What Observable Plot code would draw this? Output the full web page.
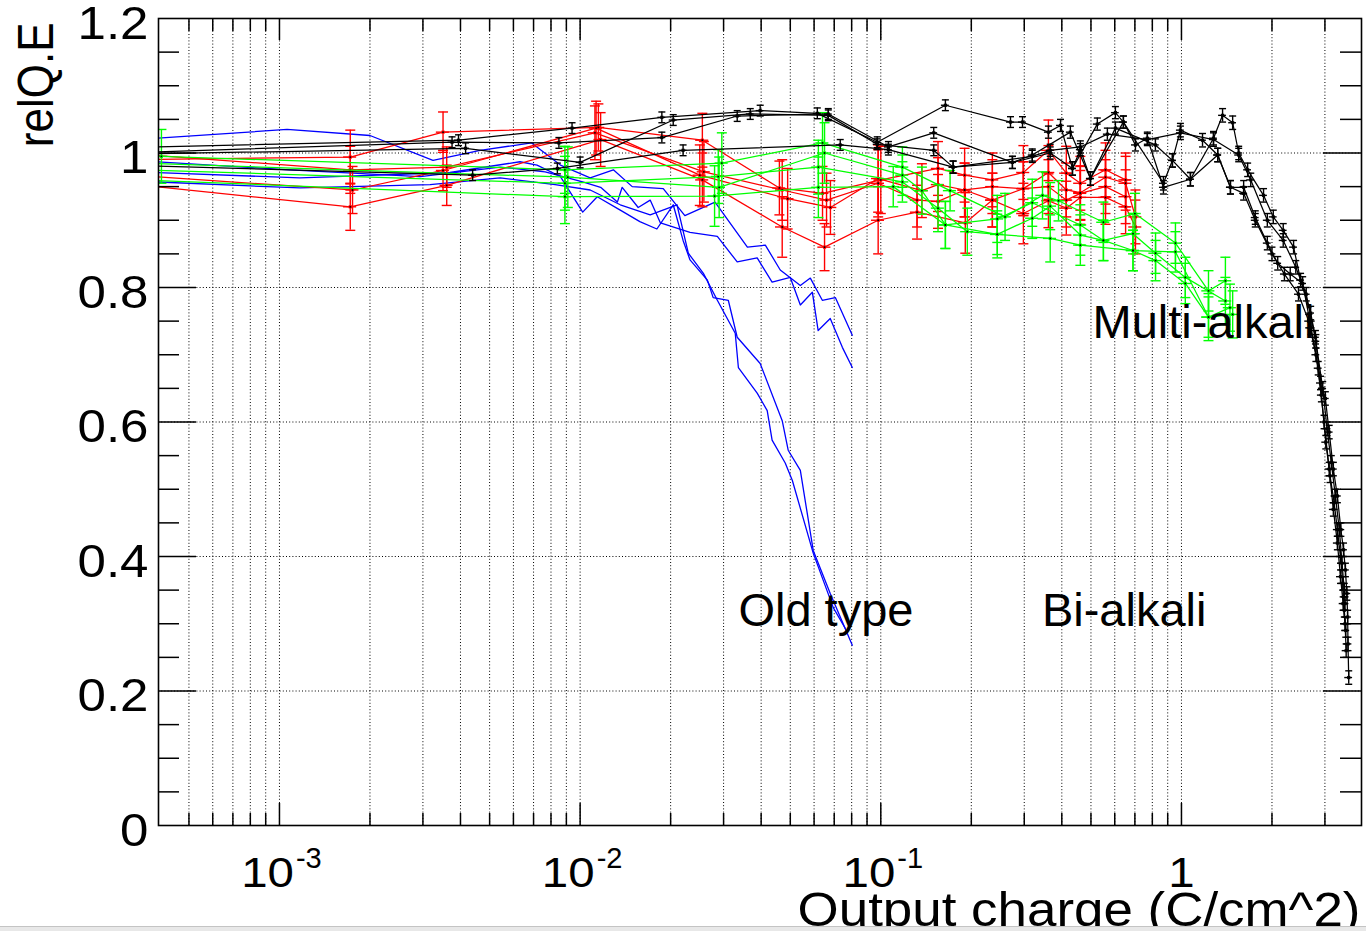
<!DOCTYPE html>
<html>
<head>
<meta charset="utf-8">
<script src="https://cdn.jsdelivr.net/npm/d3@7"></script>
<script src="https://cdn.jsdelivr.net/npm/@observablehq/plot@0.6"></script>
<style>
  html, body { margin: 0; padding: 0; background: #fff; overflow: hidden; }
  #chart { position: relative; width: 1366px; height: 931px; }
  #edge { position: absolute; left: 0; top: 926px; width: 1366px; height: 5px; background: #e8e8e8; border-top: 1px solid #c4c4c4; }
</style>
</head>
<body>
<div id="chart"></div>
<div id="edge"></div>
<script>
// Relative quantum efficiency against integrated output charge (log axis).
// Each series: [charge (C/cm^2), relQ.E, error on relQ.E]

// Old-type tubes, drawn as plain lines
const blue1 = [[3.9e-4,1.022],[1.06e-3,1.035],[2.0e-3,1.026],[3.24e-3,0.989],[4.65e-3,1.004],[6.9e-3,1.015],[8.6e-3,0.982],[0.0108,0.963],[0.0129,0.975],[0.0149,0.950],[0.0189,0.947],[0.0223,0.907],[0.0281,0.927],[0.036,0.860],[0.0413,0.863],[0.0463,0.826],[0.054,0.803],[0.0583,0.814],[0.0639,0.781],[0.0706,0.785],[0.0804,0.729]];
const blue2 = [[3.9e-4,0.987],[1.08e-3,0.975],[2.94e-3,0.965],[5.42e-3,0.979],[7.65e-3,0.972],[0.0102,0.957],[0.0117,0.949],[0.0133,0.927],[0.0138,0.949],[0.0156,0.919],[0.0171,0.930],[0.0185,0.896],[0.0232,0.882],[0.0286,0.876],[0.0333,0.838],[0.0388,0.844],[0.0435,0.808],[0.050,0.815],[0.054,0.774],[0.0592,0.793],[0.0619,0.736],[0.0679,0.754],[0.0745,0.711],[0.0804,0.681]];
const blue3 = [[3.9e-4,0.971],[1.17e-3,0.963],[3.69e-3,0.971],[6.31e-3,0.987],[7.19e-3,0.982],[8.6e-3,0.965],[0.0102,0.912],[0.0114,0.935],[0.0136,0.915],[0.0158,0.898],[0.018,0.887],[0.0204,0.923],[0.022,0.870],[0.0232,0.841],[0.0265,0.811],[0.0277,0.785],[0.0311,0.781],[0.0333,0.726],[0.0397,0.687],[0.047,0.602],[0.0492,0.558],[0.054,0.528],[0.0596,0.409],[0.0679,0.345],[0.0804,0.268]];
const blue4 = [[3.9e-4,0.957],[1.17e-3,0.948],[3.17e-3,0.953],[5.42e-3,0.963],[8.26e-3,0.953],[0.0108,0.945],[0.0136,0.923],[0.0171,0.908],[0.021,0.923],[0.0229,0.851],[0.0257,0.821],[0.0286,0.781],[0.0328,0.732],[0.0336,0.681],[0.0388,0.643],[0.0419,0.617],[0.0435,0.573],[0.0481,0.539],[0.0508,0.513],[0.0596,0.405],[0.0695,0.324],[0.0762,0.293]];

// Red series
const red1 = [[3e-4,0.955,0.03],[1.72e-3,0.920,0.035],[3.6e-3,0.952,0.03],[0.0117,1.02,0.04],[0.0255,0.960,0.04],[0.047,0.890,0.045],[0.065,0.860,0.035],[0.098,0.900,0.05],[0.132,0.912,0.04],[0.191,0.896,0.045],[0.235,0.930,0.04],[0.298,0.910,0.045],[0.361,0.929,0.04],[0.414,0.918,0.04],[0.461,0.934,0.04],[0.559,0.934,0.04],[0.652,0.920,0.04],[0.703,0.890,0.04]];
const red2 = [[3e-4,0.968,0.03],[1.75e-3,0.945,0.035],[3.5e-3,0.974,0.03],[0.0113,1.037,0.04],[0.025,0.967,0.045],[0.049,0.932,0.045],[0.068,0.919,0.04],[0.098,0.962,0.05],[0.137,0.944,0.04],[0.155,0.953,0.04],[0.19,0.945,0.04],[0.235,0.950,0.04],[0.298,0.947,0.04],[0.361,0.971,0.04],[0.414,0.945,0.04],[0.461,0.941,0.04],[0.559,0.964,0.04],[0.652,0.955,0.04],[0.703,0.905,0.04]];
const red3 = [[3e-4,0.990,0.03],[1.72e-3,0.994,0.04],[3.5e-3,1.031,0.03],[0.0115,1.038,0.035],[0.0255,1.019,0.04],[0.046,0.948,0.04],[0.064,0.940,0.04],[0.1,0.960,0.05],[0.155,0.977,0.04],[0.19,0.967,0.04],[0.235,0.960,0.04],[0.298,0.971,0.04],[0.361,1.004,0.045],[0.414,0.970,0.04],[0.461,0.955,0.04],[0.559,0.975,0.04],[0.652,0.960,0.04]];
const red4 = [[3e-4,1.0,0.03],[1.72e-3,0.975,0.035],[3.6e-3,0.979,0.03],[0.0112,1.03,0.04],[0.0258,0.972,0.045],[0.047,0.945,0.045],[0.066,0.930,0.04],[0.098,0.955,0.05],[0.132,0.930,0.04],[0.155,0.928,0.04],[0.19,0.945,0.04],[0.235,0.930,0.04],[0.298,0.947,0.04],[0.361,0.950,0.04],[0.414,0.930,0.04],[0.461,0.940,0.04],[0.559,0.950,0.04],[0.652,0.935,0.04]];

// Green series
const green1 = [[4.05e-4,0.995,0.04],[0.0089,0.975,0.035],[0.0296,0.985,0.045],[0.064,1.015,0.045],[0.118,0.979,0.03],[0.17,0.944,0.03],[0.259,0.905,0.035],[0.345,0.937,0.035],[0.39,0.929,0.03],[0.55,0.897,0.03],[0.70,0.910,0.03],[0.955,0.866,0.03],[1.23,0.795,0.03],[1.40,0.810,0.035]];
const green2 = [[3.5e-4,0.985,0.04],[0.0091,0.964,0.045],[0.029,0.949,0.045],[0.065,1.0,0.045],[0.118,0.967,0.03],[0.137,0.944,0.035],[0.164,0.893,0.035],[0.244,0.902,0.035],[0.319,0.926,0.035],[0.461,0.893,0.03],[0.55,0.870,0.03],[0.69,0.880,0.03],[0.82,0.851,0.03],[1.03,0.815,0.03],[1.40,0.780,0.035]];
const green3 = [[3.5e-4,0.975,0.04],[0.0089,0.955,0.04],[0.0288,0.965,0.04],[0.062,0.979,0.04],[0.118,0.957,0.03],[0.155,0.918,0.035],[0.194,0.883,0.035],[0.244,0.879,0.035],[0.319,0.903,0.03],[0.366,0.921,0.035],[0.461,0.878,0.03],[0.55,0.870,0.03],[0.69,0.855,0.03],[0.82,0.840,0.03],[1.03,0.806,0.03],[1.23,0.756,0.035],[1.48,0.760,0.035]];
const green4 = [[3.5e-4,0.960,0.04],[0.0089,0.935,0.04],[0.028,0.936,0.045],[0.062,0.949,0.045],[0.11,0.950,0.03],[0.164,0.893,0.035],[0.244,0.879,0.03],[0.366,0.873,0.035],[0.461,0.863,0.03],[0.69,0.855,0.03],[0.955,0.853,0.03],[1.23,0.756,0.03],[1.45,0.770,0.035]];

// Black series
const black1 = [[3e-4,1.008,0.006],[3.94e-3,1.019,0.008],[9.4e-3,1.037,0.008],[0.0187,1.053,0.008],[0.0397,1.063,0.008],[0.0615,1.059,0.008],[0.0973,1.016,0.008],[0.164,1.071,0.008],[0.270,1.046,0.008],[0.296,1.046,0.008],[0.361,1.031,0.009],[0.396,1.041,0.009],[0.434,0.977,0.01],[0.525,1.043,0.009],[0.603,1.060,0.009],[0.641,1.046,0.009],[0.703,1.012,0.009],[0.77,1.022,0.009],[0.871,0.949,0.01],[1.071,0.961,0.01],[1.278,1.022,0.01],[1.37,1.056,0.01],[1.48,1.045,0.01],[1.55,1.0,0.01],[1.66,0.975,0.01],[1.875,0.937,0.01],[2.02,0.905,0.01],[2.18,0.885,0.01],[2.36,0.86,0.01],[2.49,0.811,0.01],[2.69,0.762,0.01],[2.79,0.726,0.01],[2.90,0.658,0.01],[3.01,0.635,0.01],[3.1,0.585,0.01],[3.2,0.53,0.01],[3.3,0.49,0.01],[3.39,0.44,0.01],[3.46,0.41,0.01],[3.51,0.38,0.01],[3.55,0.345,0.01],[3.57,0.31,0.01],[3.58,0.27,0.01],[3.6,0.22,0.01]];
const black2 = [[3e-4,1.0,0.006],[3.75e-3,1.016,0.008],[8.5e-3,1.015,0.008],[0.0187,1.023,0.008],[0.0333,1.055,0.008],[0.0669,1.058,0.008],[0.106,1.009,0.008],[0.150,1.030,0.008],[0.274,0.986,0.009],[0.319,0.997,0.009],[0.427,1.031,0.009],[0.498,0.962,0.01],[0.603,1.037,0.009],[0.819,1.012,0.009],[0.933,0.989,0.01],[0.992,1.034,0.01],[1.175,1.019,0.01],[1.32,0.997,0.01],[1.455,0.949,0.01],[1.61,0.949,0.01],[1.76,0.904,0.01],[1.93,0.866,0.01],[2.09,0.836,0.01],[2.3,0.82,0.01],[2.53,0.806,0.01],[2.7,0.74,0.01],[2.85,0.68,0.01],[2.98,0.6,0.01],[3.1,0.53,0.01],[3.2,0.47,0.01],[3.3,0.42,0.01],[3.38,0.37,0.01],[3.45,0.33,0.01],[3.5,0.30,0.01],[3.53,0.26,0.01]];
const black3 = [[3e-4,0.998,0.006],[4.16e-3,1.007,0.008],[0.01,0.986,0.008],[0.0204,1.049,0.008],[0.0368,1.058,0.008],[0.0669,1.056,0.008],[0.0973,1.013,0.008],[0.150,1.004,0.008],[0.174,0.979,0.009],[0.319,0.995,0.009],[0.366,1.004,0.009],[0.461,1.009,0.009],[0.567,1.028,0.009],[0.77,1.02,0.009],[0.992,1.03,0.01],[1.278,1.02,0.01],[1.55,0.997,0.01],[1.7,0.96,0.01],[1.93,0.90,0.01],[2.18,0.87,0.01],[2.4,0.83,0.01],[2.6,0.79,0.01],[2.8,0.72,0.01],[2.95,0.65,0.01],[3.05,0.59,0.01],[3.15,0.54,0.01],[3.25,0.49,0.01],[3.35,0.44,0.01],[3.42,0.39,0.01],[3.48,0.35,0.01],[3.5,0.33,0.01]];
const black4 = [[3e-4,0.982,0.006],[4.39e-3,0.967,0.008],[8.4e-3,0.977,0.008],[0.022,1.004,0.008],[0.0733,1.012,0.008],[0.106,1.005,0.008],[0.174,0.979,0.009],[0.274,0.986,0.009],[0.366,1.0,0.009],[0.434,0.977,0.01],[0.461,1.005,0.009],[0.498,0.962,0.01],[0.641,1.046,0.009],[0.871,0.955,0.01],[0.933,0.989,0.01],[1.071,0.961,0.01],[1.32,0.997,0.01],[1.455,0.949,0.01],[1.61,0.94,0.01],[1.76,0.9,0.01],[2.0,0.85,0.01],[2.2,0.82,0.01],[2.45,0.79,0.01],[2.65,0.75,0.01],[2.8,0.70,0.01],[2.92,0.64,0.01],[3.02,0.57,0.01],[3.12,0.52,0.01],[3.22,0.48,0.01],[3.3,0.44,0.01],[3.38,0.40,0.01],[3.44,0.36,0.01],[3.48,0.32,0.01],[3.52,0.29,0.01]];

// Axis ticks and labels
const xDomain = [3.96e-4, 3.97];
const xDecadeLabels = [1e-3, 1e-2, 1e-1];
const xDecadeExponents = ["-3", "-2", "-1"];
const xUnitLabel = [1];
const yLabelValues = [0, 0.2, 0.4, 0.6, 0.8, 1.0, 1.2];
const yGridValues = [0.2, 0.4, 0.6, 0.8, 1.0];
const yMinorValues = [0.05, 0.1, 0.15, 0.25, 0.3, 0.35, 0.45, 0.5, 0.55, 0.65, 0.7, 0.75, 0.85, 0.9, 0.95, 1.05, 1.1, 1.15];

const annotations = [
  {x: 0.506, y: 0.7245, text: "Multi-alkali"},
  {x: 0.0336, y: 0.296, text: "Old type"},
  {x: 0.3434, y: 0.296, text: "Bi-alkali"}
];

// log tick positions 1..9 x 10^p inside the domain
const xTickValues = [];
const xMajorValues = [];
for (let p = -4; p <= 0; p++) {
  for (let m = 1; m <= 9; m++) {
    const v = +(m * 10 ** p).toPrecision(3);
    if (v > 4.05e-4 && v < 3.9) {
      xTickValues.push(v);
      if (m === 1) xMajorValues.push(v);
    }
  }
}
const xMinorValues = xTickValues.filter(v => !xMajorValues.includes(v));

const W = 1366, H = 931;
const mL = 158, mR = 5, mT = 18, mB = 106;
const plotW = W - mL - mR, plotH = H - mT - mB;

// font sizes double as handles for the lettering widths set below
const FS = {yLabel: 46, xLabel: 42, xExp: 29, xTitle: 49, yTitle: 44, note: 47};

// horizontal bar symbol for error-bar caps
const hline = {
  draw(ctx, size) {
    const r = Math.sqrt(size / Math.PI);
    ctx.moveTo(-r, 0);
    ctx.lineTo(r, 0);
  }
};

function toRows(list) {
  return list.flatMap((pts, k) => pts.map(([x, y, e = 0]) => ({k, x, y, e})));
}

function seriesMarks(list, color, {bars = true, xErr = 0.05, cap = 5, width = 1.25} = {}) {
  const data = toRows(list);
  const marks = [Plot.line(data, {x: "x", y: "y", z: "k", stroke: color, strokeWidth: width, clip: true})];
  if (bars) {
    const s = {stroke: color, strokeWidth: 1.4, clip: true};
    marks.push(
      Plot.ruleX(data, {x: "x", y1: d => d.y - d.e, y2: d => d.y + d.e, ...s}),
      Plot.ruleY(data, {y: "y", x1: d => d.x * (1 - xErr), x2: d => d.x * (1 + xErr), ...s}),
      Plot.dot(data, {x: "x", y: d => d.y + d.e, symbol: hline, r: cap, fill: "none", ...s}),
      Plot.dot(data, {x: "x", y: d => d.y - d.e, symbol: hline, r: cap, fill: "none", ...s}),
      Plot.dot(data, {x: "x", y: "y", symbol: "square", r: 1.8, fill: color, stroke: "none", clip: true}),
      Plot.dot(data, {x: "x", y: "y", r: 0.9, fill: "#000", stroke: "none", clip: true})
    );
  }
  return marks;
}

const font = "'Liberation Sans', Arial, Helvetica, sans-serif";
const dotted = {stroke: "#000", strokeWidth: 1, strokeDasharray: "1,2.2"};
const tickStyle = {stroke: "#000", strokeWidth: 1.5};

const chart = Plot.plot({
  width: W, height: H,
  marginLeft: mL, marginRight: mR, marginTop: mT, marginBottom: mB,
  x: {type: "log", domain: xDomain, axis: null},
  y: {domain: [0, 1.2], axis: null},
  style: {fontFamily: font, background: "#fff", color: "#000", overflow: "visible"},
  marks: [
    // dotted grid
    Plot.ruleX(xTickValues, {x: d => d, ...dotted}),
    Plot.ruleY(yGridValues, {y: d => d, ...dotted}),

    // data
    ...seriesMarks([blue1, blue2, blue3, blue4], "#0000ff", {bars: false, width: 1.3}),
    ...seriesMarks([red1, red2, red3, red4], "#ff0000", {xErr: 0.05, cap: 5}),
    ...seriesMarks([green1, green2, green3, green4], "#00ff00", {xErr: 0.05, cap: 5}),
    ...seriesMarks([black1, black2, black3, black4], "#000000", {xErr: 0.03, cap: 3.5}),

    // inward ticks: left and right y, bottom and top x
    Plot.tickY(yGridValues, {y: d => d, insetRight: plotW - 38, ...tickStyle}),
    Plot.tickY(yMinorValues, {y: d => d, insetRight: plotW - 21, ...tickStyle}),
    Plot.tickY(yGridValues, {y: d => d, insetLeft: plotW - 38, ...tickStyle}),
    Plot.tickY(yMinorValues, {y: d => d, insetLeft: plotW - 21, ...tickStyle}),
    Plot.tickX(xMajorValues, {x: d => d, insetTop: plotH - 22, ...tickStyle}),
    Plot.tickX(xMinorValues, {x: d => d, insetTop: plotH - 12, ...tickStyle}),
    Plot.tickX(xMajorValues, {x: d => d, insetBottom: plotH - 22, ...tickStyle}),
    Plot.tickX(xMinorValues, {x: d => d, insetBottom: plotH - 13, ...tickStyle}),
    Plot.frame({stroke: "#000", strokeWidth: 1.6}),

    // y tick labels
    Plot.text(yLabelValues, {
      frameAnchor: "left", y: d => d, text: d => String(+d.toFixed(1)),
      textAnchor: "end", lineAnchor: "bottom", dx: -10, dy: 20, fontSize: FS.yLabel
    }),
    // x tick labels: 10 with exponent, and 1
    Plot.text(xDecadeLabels, {
      x: d => d, frameAnchor: "bottom", text: () => "10",
      textAnchor: "end", lineAnchor: "bottom", dx: 14.5, dy: 61, fontSize: FS.xLabel
    }),
    Plot.text(xDecadeLabels, {
      x: d => d, frameAnchor: "bottom", text: (d, i) => xDecadeExponents[i],
      textAnchor: "start", lineAnchor: "bottom", dx: 16.5, dy: 42, fontSize: FS.xExp
    }),
    Plot.text(xUnitLabel, {
      x: d => d, frameAnchor: "bottom", text: d => String(d),
      textAnchor: "middle", lineAnchor: "bottom", dy: 61, fontSize: FS.xLabel
    }),
    // axis titles
    Plot.text(["Output charge (C/cm^2)"], {
      frameAnchor: "bottom-right", text: d => d, textAnchor: "end", lineAnchor: "bottom",
      dx: -1, dy: 100, fontSize: FS.xTitle
    }),
    Plot.text(["relQ.E"], {
      frameAnchor: "top-left", text: d => d, textAnchor: "end", lineAnchor: "bottom",
      rotate: -90, dx: 52 - mL, dy: 4, fontSize: FS.yTitle
    }),
    // in-plot labels
    Plot.text(annotations, {
      x: "x", y: "y", text: "text", textAnchor: "start", lineAnchor: "bottom", fontSize: FS.note
    })
  ]
});

// widen axis lettering about each label's own anchor point
function stretch(size, sx, sy) {
  chart.querySelectorAll("text").forEach(t => {
    const g = t.closest("[font-size]");
    const fs = g ? parseFloat(g.getAttribute("font-size")) : NaN;
    if (fs !== size) return;
    const tr = t.getAttribute("transform") || "";
    const x = parseFloat(t.getAttribute("x")) || 0;
    const y = parseFloat(t.getAttribute("y")) || 0;
    t.setAttribute("transform", `${tr} translate(${x},${y}) scale(${sx},${sy}) translate(${-x},${-y})`);
  });
}
stretch(FS.yLabel, 1.11, 1);
stretch(FS.xLabel, 1.13, 1);
stretch(FS.xTitle, 1.08, 1);
stretch(FS.yTitle, 1, 1.13);

document.getElementById("chart").appendChild(chart);
</script>
</body>
</html>
